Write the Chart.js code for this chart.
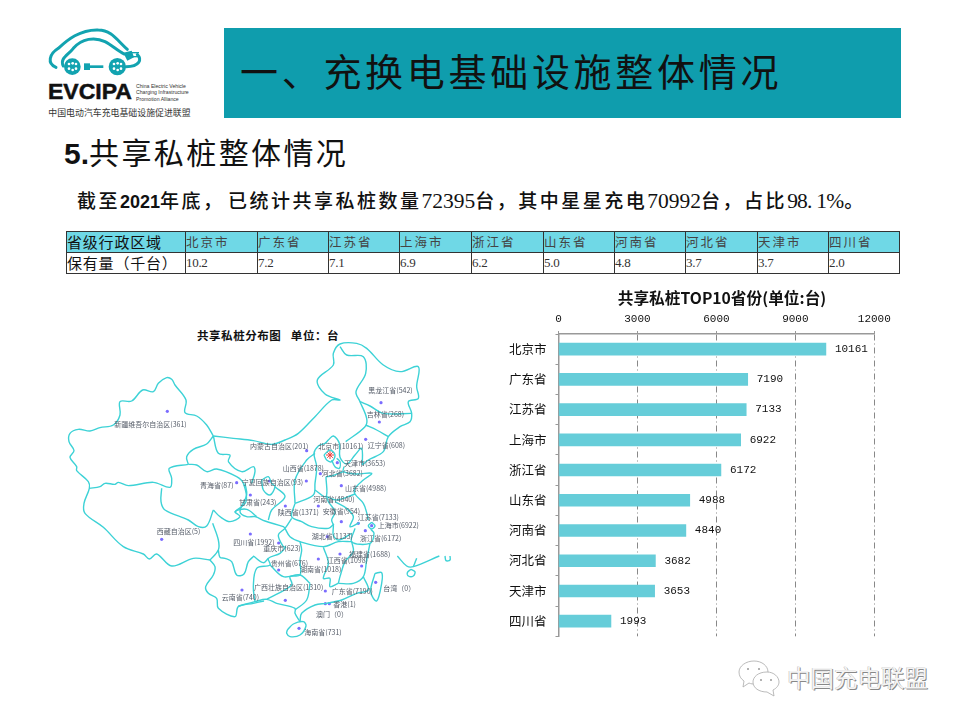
<!DOCTYPE html>
<html lang="zh">
<head>
<meta charset="utf-8">
<title>共享私桩整体情况</title>
<script src="https://cdn.jsdelivr.net/npm/chart.js@4"></script>
<style>
  html, body { margin: 0; padding: 0; background: #fff; }
  body { width: 960px; height: 720px; position: relative; overflow: hidden;
         font-family: "Noto Sans CJK SC", sans-serif; color: #111; }
  .abs { position: absolute; white-space: nowrap; }
  #logo { left: 30px; top: 20px; }
  #banner { left: 224px; top: 28px; width: 677px; height: 90px; background: #0f9dad; }
  #bannerText { left: 240px; top: 42px; font-size: 38px; line-height: 56px; letter-spacing: 3.7px; }
  #sub { left: 64px; top: 129px; font-size: 30px; line-height: 44px; letter-spacing: 2.4px; }
  #sub b { font-family: "Liberation Sans", sans-serif; letter-spacing: 0; }
  #lead { left: 77px; top: 187px; font-size: 19px; line-height: 26px; font-weight: 500; letter-spacing: 2.5px; }
  #lead span { font-family: "Liberation Serif", serif; font-size: 21.5px; letter-spacing: 0; font-weight: 400; }
  #lead span.pct { letter-spacing: -0.8px; margin-right: 1px; }
  #lead i { display: inline-block; width: 3.5px; }
  #lead b { font-family: "Liberation Sans", sans-serif; font-size: 18px; letter-spacing: 0; }
  #tbl { position: absolute; left: 66px; top: 231px; width: 833px; height: 43px; border-collapse: collapse; table-layout: fixed; }
  #tbl td { border: 1px solid #333; padding: 0; font-size: 12.5px; line-height: 20px; color: #444; overflow: hidden; white-space: nowrap; }
  #tbl tr:first-child td { background: #6fd8e6; letter-spacing: 2px; }
  #tbl tr:last-child td { font-family: "Liberation Serif", serif; font-size: 13px; letter-spacing: -0.3px; color: #333; }
  #tbl td:first-child { font-family: "Noto Sans CJK SC", sans-serif !important; font-size: 15px !important; color: #111 !important; letter-spacing: 0.8px !important; }
  #mapTitle { left: 197px; top: 326px; font-size: 11.5px; line-height: 18px; font-weight: 700; letter-spacing: 0.55px; }
  #mapChart { position: absolute; left: 60px; top: 320px; }
  #barChart { position: absolute; left: 490px; top: 280px; }
  #wechat { left: 738px; top: 658px; }
  #footer { left: 787px; top: 660px; font-size: 23.5px; line-height: 34px; color: #f4f4f4; text-shadow: 1px 1px 0 #888, -0.5px -0.5px 0 #bbb; }
</style>
</head>
<body>

<svg id="logo" class="abs" width="200" height="110" viewBox="0 0 600 330">
  <g fill="none" stroke="#12a3b0" stroke-width="9" stroke-linecap="round">
    <path d="M78 142 C50 130 58 102 85 85 C112 60 150 28 205 30 C245 30 262 62 292 88"/>
    <path d="M100 138 C88 115 115 105 130 85 C155 55 195 50 225 65 C245 75 262 92 282 102"/>
    <path d="M288 140 C330 140 336 118 322 104"/>
  </g>
  <g fill="#12a3b0">
    <circle cx="127" cy="140" r="25"/>
    <circle cx="262" cy="140" r="26"/>
    <rect x="162" y="130" width="18" height="20"/>
    <rect x="180" y="136" width="40" height="8"/>
    <path d="M280 98 L305 92 L312 112 L292 122 Z"/>
    <rect x="305" y="96" width="22" height="4"/>
    <rect x="308" y="108" width="22" height="4"/>
  </g>
  <g fill="#fff">
    <circle cx="117" cy="132" r="4"/><circle cx="128" cy="130" r="4"/><circle cx="138" cy="132" r="4"/>
    <circle cx="117" cy="146" r="4"/><circle cx="128" cy="150" r="4"/><circle cx="138" cy="146" r="4"/>
    <circle cx="252" cy="132" r="4"/><circle cx="263" cy="130" r="4"/><circle cx="273" cy="132" r="4"/>
    <circle cx="252" cy="146" r="4"/><circle cx="263" cy="150" r="4"/><circle cx="273" cy="146" r="4"/>
  </g>
  <text x="54" y="236" font-family="Liberation Sans" font-weight="700" font-size="68" textLength="252" lengthAdjust="spacingAndGlyphs" fill="#111" stroke="#111" stroke-width="1.5">EVCIPA</text>
  <g font-family="Liberation Sans" font-size="15.5" fill="#333">
    <text x="318" y="204">China Electric Vehicle</text>
    <text x="318" y="223">Charging Infrastructure</text>
    <text x="318" y="242">Promotion Alliance</text>
  </g>
  <text x="55" y="288" font-family="Noto Sans CJK SC" font-size="26.7" fill="#333">中国电动汽车充电基础设施促进联盟</text>
</svg>

<div id="banner" class="abs"></div>
<div id="bannerText" class="abs">一、充换电基础设施整体情况</div>
<div id="sub" class="abs"><b>5.</b>共享私桩整体情况</div>
<div id="lead" class="abs">截至<b>2021</b>年底，<i></i>已统计共享私桩数量<span>72395</span>台，其中星星充电<span>70992</span>台，占比<span class="pct">98. 1%</span>。</div>
<table id="tbl"></table>
<div id="mapTitle" class="abs">共享私桩分布图&nbsp;&nbsp; 单位：台</div>
<canvas id="mapChart" width="400" height="330"></canvas>
<canvas id="barChart" width="420" height="370"></canvas>

<svg id="wechat" class="abs" width="44" height="40" viewBox="0 0 44 40">
  <g fill="#fff" stroke="#aaa" stroke-width="0.8">
    <path d="M16 3 C8 3 1 8 1 14 C1 18 3 21 6 23 L5 29 L11 25 C13 26 15 26 17 26 C26 26 30 20 30 14 C30 8 24 3 16 3 Z"/>
    <path d="M29 14 C20 14 15 19 15 24 C15 30 21 34 29 34 L36 38 L35 32 C39 30 41 27 41 24 C41 19 36 14 29 14 Z"/>
  </g>
  <g fill="#999"><circle cx="10" cy="11" r="1"/><circle cx="21" cy="11" r="1"/><circle cx="23" cy="22" r="1"/><circle cx="33" cy="22" r="1"/></g>
</svg>
<div id="footer" class="abs">中国充电联盟</div>

<script>
// table
const tableHead = ["省级行政区域", "北京市", "广东省", "江苏省", "上海市", "浙江省", "山东省", "河南省", "河北省", "天津市", "四川省"];
const tableRow = ["保有量（千台）", "10.2", "7.2", "7.1", "6.9", "6.2", "5.0", "4.8", "3.7", "3.7", "2.0"];

// bar chart
const chartTitle = "共享私桩TOP10省份(单位:台)";
const categories = ["北京市", "广东省", "江苏省", "上海市", "浙江省", "山东省", "河南省", "河北省", "天津市", "四川省"];
const values = [10161, 7190, 7133, 6922, 6172, 4988, 4840, 3682, 3653, 1993];
const xTicks = [0, 3000, 6000, 9000, 12000];

// map: province dots and labels, in units of the map scale
const provinces = ["新疆维吾尔自治区(361)", "西藏自治区(5)", "青海省(87)", "甘肃省(243)", "四川省(1992)", "云南省(740)",
  "宁夏回族自治区(93)", "内蒙古自治区(201)", "北京市(10161)", "辽宁省(608)", "黑龙江省(542)", "吉林省(268)",
  "天津市(3653)", "山西省(1878)", "河北省(3682)", "山东省(4988)", "河南省(4840)", "陕西省(1371)", "安徽省(954)",
  "江苏省(7133)", "上海市(6922)", "浙江省(6172)", "湖北省(1133)", "重庆市(623)", "福建省(1688)", "江西省(1098)",
  "贵州省(676)", "湖南省(1018)", "广西壮族自治区(1310)", "广东省(7190)", "台湾（0）", "香港(1)", "澳门（0）", "海南省(731)"];
const labelX = [163, 290, 420, 537, 520, 485, 545, 570, 775, 923, 925, 920, 852, 668, 785, 855, 760, 653, 788, 893, 953, 900, 755, 610, 867, 800, 632, 720, 582, 815, 970, 820, 768, 733];
const labelY = [312, 633, 497, 548, 667, 831, 488, 380, 378, 376, 210, 284, 429, 445, 461, 504, 537, 578, 574, 593, 617, 654, 650, 686, 704, 722, 731, 747, 801, 814, 804, 852, 884, 938];
const dotX = [322, 305, 530, 571, 571, 546, 628, 740, 0, 917, 963, 958, 832, 739, 781, 844, 775, 676, 844, 895, 935, 916, 802, 656, 905, 840, 656, 775, 676, 796, 947, 796, 808, 717];
const dotY = [274, 658, 488, 525, 642, 810, 483, 392, 0, 358, 248, 306, 428, 483, 461, 497, 558, 558, 605, 610, 617, 632, 650, 669, 738, 702, 750, 717, 841, 813, 787, 851, 851, 925];
const capitalStar = [{ x: 810, y: 405 }];

// outlines, [x, y]
const westLines = [
  [[460,348],[440,315],[410,288],[375,278],[378,240],[345,195],[335,178],[320,173],[295,190],[280,215],[248,210],[215,243],[180,245],[180,285],[160,315],[120,323],[90,333],[55,328],[30,340],[27,365],[42,392],[30,412],[50,440],[50,452],[85,485],[88,505],[72,550],[75,580],[130,622],[190,680],[250,702],[268,717],[290,702],[335,738],[400,715],[450,720]],
  [[88,505],[120,500],[135,490],[165,493],[175,487],[205,497],[280,487],[330,502],[335,475],[328,445],[385,433]],
  [[385,433],[380,410],[400,388],[440,372],[460,348]],
  [[305,505],[303,545],[315,570],[385,600],[415,620],[440,618],[460,570]],
  [[460,570],[480,590],[510,605],[540,590],[525,575],[560,568],[590,590]],
  [[525,575],[558,545],[550,490],[530,470],[470,447],[440,455],[410,435],[385,433]],
  [[460,348],[475,400],[510,405],[505,425],[545,455],[580,440],[585,455],[575,490]],
  [[458,610],[475,660],[475,690],[450,720]],
  [[475,690],[480,712],[495,715],[515,725],[530,765],[552,762],[565,725],[582,708]],
  [[450,720],[465,740],[460,765],[437,800],[445,820],[470,835],[475,865],[525,890],[535,860],[580,850],[612,843]]
];
const eastLines = [
  [[40,348],[100,355],[160,362],[215,373],[255,360],[295,340],[345,290],[395,240],[420,240],[375,222],[352,180],[400,135],[400,100],[420,72],[470,70],[500,85],[550,135],[600,155],[655,140],[650,200],[655,235],[625,245],[635,280],[630,305],[600,320],[565,350],[550,395],[505,420],[487,435]],
  [[420,80],[440,105],[490,110],[497,160],[468,215],[480,245],[500,295],[495,320],[437,365]],
  [[480,245],[510,258],[550,280],[635,280]],
  [[497,315],[530,330],[565,350]],
  [[487,435],[485,385],[465,405],[440,432],[420,412],[418,370],[400,348],[385,360],[375,370],[355,378],[342,400],[350,440],[345,490],[340,525],[285,550]],
  [[345,400],[320,420],[285,480],[285,550]],
  [[372,405],[390,390],[405,405],[395,425],[380,420],[372,405]],
  [[395,420],[405,440],[418,445],[420,425],[410,415]],
  [[432,440],[430,455],[470,462],[515,460],[490,480],[465,505],[465,522],[490,550],[500,578],[505,600]],
  [[378,470],[395,468],[430,455]],
  [[378,470],[378,530],[345,510]],
  [[380,530],[410,540],[465,522]],
  [[285,550],[275,590],[305,605],[335,620],[385,625],[402,612]],
  [[380,530],[385,545],[405,575],[395,600],[400,615],[400,645],[415,660],[455,640]],
  [[405,545],[440,565],[460,590],[450,620],[478,608]],
  [[465,625],[455,665],[510,670],[522,640],[512,628]],
  [[255,625],[270,650],[300,665],[370,680],[415,665],[455,665]],
  [[275,595],[255,625],[235,645],[250,680],[258,680]],
  [[370,682],[385,730],[370,775],[390,775],[390,800],[415,790]],
  [[455,665],[460,695],[435,725],[420,770],[415,790]],
  [[510,670],[500,720],[490,770],[460,790],[415,790]],
  [[490,770],[505,810],[470,820],[425,840],[380,850],[345,855],[305,880],[300,905]],
  [[300,905],[285,880],[285,865],[230,850],[200,838],[165,845],[115,858]],
  [[165,845],[160,800],[170,745],[210,735],[205,715],[240,700],[258,680]],
  [[160,708],[190,728],[205,715]],
  [[210,735],[250,770],[300,765],[330,790]],
  [[300,665],[305,690],[300,720],[300,765],[270,770],[275,795],[200,838]],
  [[330,790],[320,840],[285,870]],
  [[185,480],[190,510],[210,525],[225,500],[215,490],[205,470],[185,480]],
  [[135,490],[140,525],[120,575],[140,590],[165,590],[195,603],[250,620],[255,625]],
  [[225,500],[255,530],[215,570],[205,600]],
  [[262,930],[280,912],[310,905],[318,918],[300,945],[270,950],[260,940],[262,930]],
  [[525,760],[545,758],[545,790],[530,843],[512,815],[525,760]],
  [[592,708],[620,738],[640,740],[718,708]],
  [[650,715],[640,740]],
  [[633,748],[645,755],[640,768],[625,768],[622,758],[633,748]],
  [[735,708],[738,722],[750,720],[750,708]],
  [[515,607],[525,617],[515,627],[505,617],[515,607]]
];
const EAST_SHIFT = 420;
const LINE_COLOR = "#3dd2d6";

// table
const tbl = document.getElementById("tbl");
const colWidths = [119, 72, 71, 71, 72, 72, 71, 71, 72, 71, 71];
tbl.innerHTML =
  "<colgroup>" + colWidths.map((w) => `<col style="width:${w}px">`).join("") + "</colgroup>" +
  [tableHead, tableRow].map((row) => "<tr>" + row.map((c) => `<td>${c}</td>`).join("") + "</tr>").join("");

// map
const mapLabelPlugin = {
  id: "mapLabels",
  afterDatasetsDraw(chart) {
    const ctx = chart.ctx;
    ctx.save();
    ctx.font = '7px "Noto Sans CJK SC"';
    ctx.fillStyle = "#555c68";
    ctx.textBaseline = "middle";
    ctx.textAlign = "left";
    provinces.forEach((name, i) => {
      ctx.fillText(name, chart.scales.x.getPixelForValue(labelX[i]), chart.scales.y.getPixelForValue(labelY[i]));
    });
    ctx.restore();
  },
};

const mapDatasets = [];
const addLines = (lines, shift) => {
  lines.forEach((line) => {
    mapDatasets.push({
      data: line.map((p) => ({ x: p[0] + shift, y: p[1] })),
      showLine: true,
      borderColor: LINE_COLOR,
      borderWidth: 1.4,
      tension: 0.35,
      pointRadius: 0,
    });
  });
};
addLines(westLines, 0);
addLines(eastLines, EAST_SHIFT);
mapDatasets.push({
  data: dotX.map((x, i) => ({ x: x, y: dotY[i] })).filter((p) => p.x > 0),
  pointRadius: 1.6,
  pointBackgroundColor: "#7b6cff",
  pointBorderWidth: 0,
});
mapDatasets.push({
  data: capitalStar,
  pointStyle: "star",
  pointRadius: 4,
  pointBorderColor: "#f04040",
  pointBorderWidth: 1,
});

new Chart(document.getElementById("mapChart"), {
  type: "scatter",
  data: { datasets: mapDatasets },
  options: {
    responsive: false,
    animation: false,
    events: [],
    layout: { autoPadding: false },
    plugins: { legend: { display: false }, tooltip: { enabled: false } },
    scales: {
      x: { type: "linear", display: false, min: 0, max: 1200 },
      y: { type: "linear", display: false, min: 0, max: 990, reverse: true },
    },
  },
  plugins: [mapLabelPlugin],
});

// bars
const barLabelPlugin = {
  id: "barLabels",
  afterDatasetsDraw(chart) {
    const ctx = chart.ctx;
    ctx.save();
    ctx.font = '11px "Liberation Mono"';
    ctx.fillStyle = "#111";
    ctx.textBaseline = "middle";
    chart.getDatasetMeta(0).data.forEach((bar, i) => {
      ctx.fillText(values[i], bar.x + 9, bar.y);
    });
    // the title sits right of the canvas centre, over the plot
    ctx.font = 'bold 15.7px "Noto Sans CJK SC"';
    ctx.textAlign = "center";
    ctx.fillText(chartTitle, 232, 18);
    ctx.restore();
  },
};

new Chart(document.getElementById("barChart"), {
  type: "bar",
  data: {
    labels: categories,
    datasets: [{ data: values, backgroundColor: "#66cdd9", barThickness: 12 }],
  },
  options: {
    indexAxis: "y",
    responsive: false,
    animation: false,
    events: [],
    layout: { autoPadding: false, padding: { top: 30, right: 35.7, bottom: 13.7 } },
    plugins: { legend: { display: false }, tooltip: { enabled: false } },
    scales: {
      x: {
        position: "top",
        min: 0,
        max: 12000,
        afterBuildTicks(scale) {
          scale.ticks = xTicks.map((v) => ({ value: v }));
        },
        afterFit(scale) {
          scale.height = 24;
        },
        border: { color: "#999", width: 1.5, dash: [6, 3, 1, 3] },
        grid: { color: "#888", lineWidth: 1, tickLength: 3, tickColor: "#999", tickBorderDash: [] },
        ticks: {
          color: "#111",
          maxRotation: 0,
          padding: 5,
          font: { family: "Liberation Mono", size: 11 },
          callback: (v) => String(v),
        },
      },
      y: {
        afterFit(scale) {
          scale.width = 68.5;
          // otherwise the label padding overrides the layout's bottom padding
          scale.paddingTop = 0;
          scale.paddingBottom = 0;
        },
        border: { color: "#999", width: 1.5 },
        grid: { drawOnChartArea: false, color: "#999", tickLength: 3 },
        ticks: { color: "#111", padding: 9, font: { family: "Noto Sans CJK SC", size: 12.5 } },
      },
    },
  },
  plugins: [barLabelPlugin],
});
</script>
</body>
</html>
